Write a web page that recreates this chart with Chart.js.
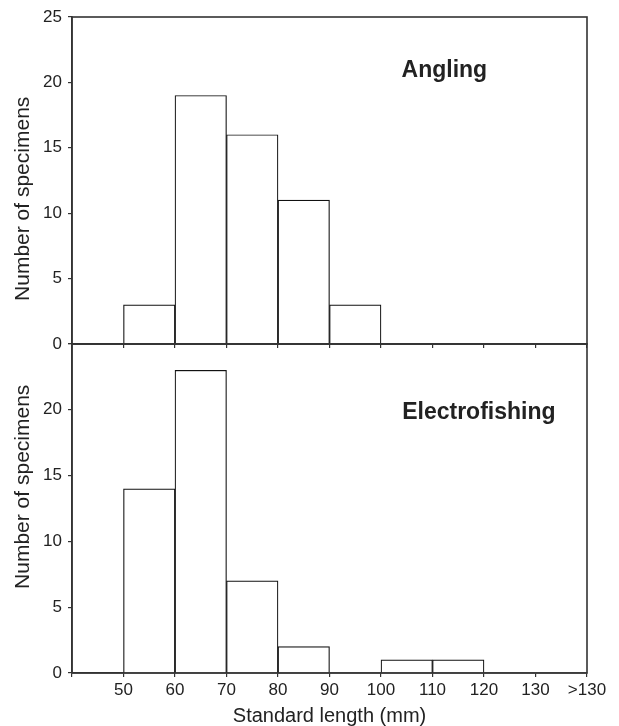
<!DOCTYPE html>
<html><head><meta charset="utf-8">
<script src="https://cdn.jsdelivr.net/npm/chart.js@4.4.1/dist/chart.umd.min.js"></script>
<style>
html,body{margin:0;padding:0;background:#fff;}
#wrap{position:relative;width:619px;height:726px;overflow:hidden;}
canvas{position:absolute;left:0;}
#c1{top:0;}
#c2{top:326px;}
</style></head><body>
<div id="wrap">
<canvas id="c1" width="619" height="364"></canvas>
<canvas id="c2" width="619" height="400"></canvas>
</div>
<script>
// ---- data ----
const binStarts = [50, 60, 70, 80, 90, 100, 110, 120, 130];
const binWidth = 10;
const anglingCounts = [3, 19, 16, 11, 3, 0, 0, 0, 0];
const electroCounts = [14, 23, 7, 2, 0, 1, 1, 0, 0];
const xTickValues = [40, 50, 60, 70, 80, 90, 100, 110, 120, 130, 140];
const xTickLabels = ['', '50', '60', '70', '80', '90', '100', '110', '120', '130', '>130'];
const yTickLabelsTop = ['0', '5', '10', '15', '20', '25'];
const yTickLabelsBottom = ['0', '5', '10', '15', '20', ''];
const panelTitles = ['Angling', 'Electrofishing'];
const yAxisTitle = 'Number of specimens';
const xAxisTitle = 'Standard length (mm)';

const FONT = '"Liberation Sans", Arial, sans-serif';
const TXT = '#222';
const AX = '#333';

const framePlugin = {
  id: 'frame',
  afterDraw(chart) {
    const {ctx, chartArea: a} = chart;
    ctx.save();
    ctx.strokeStyle = AX;
    ctx.lineWidth = 1.6;
    ctx.strokeRect(a.left, a.top, a.right - a.left, a.bottom - a.top);
    ctx.restore();
  }
};
const panelLabelPlugin = {
  id: 'panelLabel',
  afterDraw(chart, args, o) {
    const {ctx, scales, chartArea: a} = chart;
    ctx.save();
    ctx.font = 'bold 23px ' + FONT;
    ctx.fillStyle = TXT;
    ctx.textAlign = 'center';
    ctx.textBaseline = 'middle';
    ctx.fillText(o.text, scales.x.getPixelForValue(o.x), scales.y.getPixelForValue(o.y));
    // rotated y-axis title
    ctx.font = '21px ' + FONT;
    ctx.translate(a.left - 48.5, scales.y.getPixelForValue(o.titleY));
    ctx.rotate(-Math.PI / 2);
    ctx.fillText(yAxisTitle, 0, 0);
    ctx.restore();
  }
};

function makeChart(id, counts, idx, cfg) {
  return new Chart(document.getElementById(id), {
    type: 'bar',
    data: {
      datasets: [{
        label: panelTitles[idx],
        data: binStarts.map((s, i) => ({x: s + binWidth / 2, y: counts[i]})),
        backgroundColor: '#ffffff',
        borderColor: '#111',
        borderWidth: c => (c.raw && c.raw.y > 0) ? 1.2 : 0,
        borderSkipped: 'start',
        barPercentage: 1,
        categoryPercentage: 1
      }]
    },
    options: {
      responsive: false,
      animation: false,
      layout: {padding: {top: cfg.padTop, right: 32, left: 0, bottom: 0}},
      plugins: {
        legend: {display: false},
        tooltip: {enabled: false},
        panelLabel: {text: panelTitles[idx], x: cfg.labelX, y: cfg.labelY, titleY: cfg.titleY}
      },
      scales: {
        x: {
          type: 'linear', min: 40, max: 140, offset: false,
          afterBuildTicks: a => { a.ticks = xTickValues.map(v => ({value: v})); },
          ticks: {
            display: cfg.showX, autoSkip: false, maxRotation: 0, padding: 3,
            color: TXT, font: {family: FONT, size: 17},
            callback: (v, i) => xTickLabels[i]
          },
          grid: {offset: false, drawOnChartArea: false, drawTicks: true, tickLength: 4, color: AX, lineWidth: 1.2},
          border: {display: true, color: AX, width: 1.6},
          title: {display: cfg.showX, text: xAxisTitle, color: TXT,
                  font: {family: FONT, size: 20, lineHeight: 1}, padding: {top: 0, bottom: 0}},
          afterFit: a => { a.height = cfg.xHeight; }
        },
        y: {
          min: 0, max: 25,
          ticks: {stepSize: 5, padding: 6, color: TXT, font: {family: FONT, size: 17},
                  callback: (v, i) => cfg.yLabels[i]},
          grid: {drawOnChartArea: false, drawTicks: true, tickLength: 4, color: AX, lineWidth: 1.2},
          border: {display: true, color: AX, width: 1.6},
          title: {display: false},
          afterFit: a => { a.width = 72; }
        }
      }
    },
    plugins: [framePlugin, panelLabelPlugin]
  });
}

makeChart('c1', anglingCounts, 0, {padTop: 17, xHeight: 20, showX: false, yLabels: yTickLabelsTop,
  labelX: 112.3, labelY: 20.9, titleY: 11.1});
makeChart('c2', electroCounts, 1, {padTop: 18, xHeight: 53, showX: true, yLabels: yTickLabelsBottom,
  labelX: 119, labelY: 19.8, titleY: 14.15});
</script>
</body></html>
